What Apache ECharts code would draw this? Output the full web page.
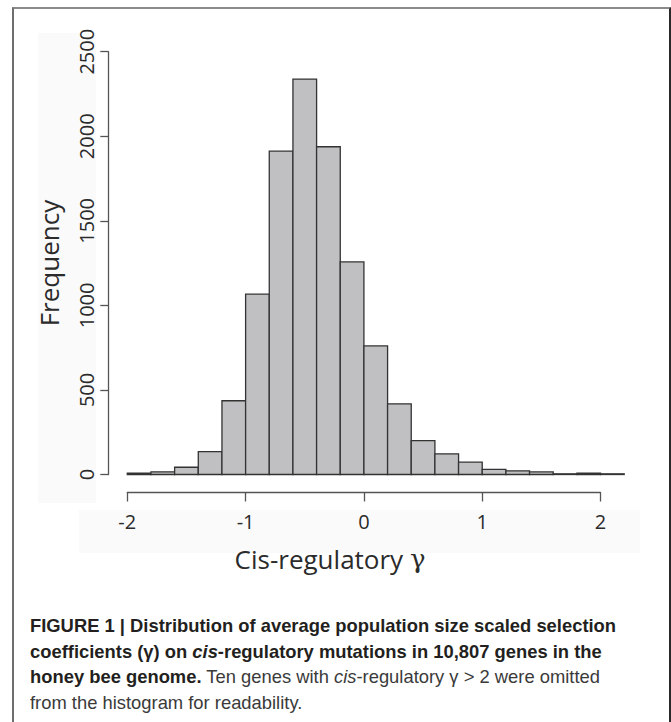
<!DOCTYPE html>
<html>
<head>
<meta charset="utf-8">
<script src="https://cdn.jsdelivr.net/npm/echarts@6/dist/echarts.min.js"></script>
<style>
  html, body { margin: 0; padding: 0; background: #fff; }
  #wrap { position: relative; width: 671px; height: 722px; overflow: hidden; }
  #frame { position: absolute; left: 12px; top: 7px; width: 655px; height: 730px;
           border-left: 2px solid #6e6e6e; border-top: 2px solid #8a8a8a; border-right: 2px solid #2a2a2a; }
  #chart { position: absolute; left: 0; top: 0; width: 671px; height: 722px; }
  #caption { position: absolute; left: 30px; top: 613px; white-space: nowrap;
             font-family: "Liberation Sans", sans-serif;
             font-size: 19px; line-height: 25.5px; color: #231f20;
             transform: scaleX(0.967); transform-origin: 0 0; }
  #caption b { font-weight: bold; }
  #caption .n { color: #3a3a3a; }
</style>
</head>
<body>
<div id="wrap">
  <div id="frame"></div>
  <div id="chart"></div>
  <div id="caption">
    <b>FIGURE 1 | Distribution of average population size scaled selection</b><br>
    <b>coefficients (γ) on <i>cis</i>-regulatory mutations in 10,807 genes in the</b><br>
    <b>honey bee genome.</b><span class="n"> Ten genes with <i>cis</i>-regulatory γ &gt; 2 were omitted</span><br>
    <span class="n">from the histogram for readability.</span>
  </div>
</div>
<script type="text/javascript">
    // histogram bins (width 0.2) and counts
    var binStart = [-2.0, -1.8, -1.6, -1.4, -1.2, -1.0, -0.8, -0.6, -0.4, -0.2, 0.0,
                    0.2, 0.4, 0.6, 0.8, 1.0, 1.2, 1.4, 1.6, 1.8, 2.0];
    var binEnd   = [-1.8, -1.6, -1.4, -1.2, -1.0, -0.8, -0.6, -0.4, -0.2, 0.0, 0.2,
                    0.4, 0.6, 0.8, 1.0, 1.2, 1.4, 1.6, 1.8, 2.0, 2.2];
    var counts   = [8, 16, 43, 135, 436, 1066, 1912, 2338, 1938, 1257, 760,
                    418, 200, 122, 73, 30, 22, 15, 4, 8, 4];
    var xTicks = [-2, -1, 0, 1, 2];
    var yTicks = [0, 500, 1000, 1500, 2000, 2500];

    var histData = [];
    for (var i = 0; i < counts.length; i++) {
        histData.push([binStart[i], binEnd[i], counts[i]]);
    }

    var axisFont = '"Open Sans", "Noto Sans", sans-serif';
    var myChart = echarts.init(document.getElementById('chart'), null, {renderer: 'svg'});

    var option = {
        animation: false,
        graphic: [
            // faint panels behind the label areas, as in the scan
            {type: 'rect', z: -10, shape: {x: 38, y: 33, width: 58, height: 470}, style: {fill: '#fafafa'}},
            {type: 'rect', z: -10, shape: {x: 79, y: 510, width: 561, height: 43}, style: {fill: '#fafafa'}},
            {
                type: 'text', x: 330, y: 559,
                style: {
                    text: '{a|Cis-regulatory }{g|γ}',
                    align: 'center', verticalAlign: 'middle',
                    rich: {
                        a: {fill: '#2b2b2b', fontSize: 26, fontFamily: axisFont},
                        g: {fill: '#2b2b2b', fontSize: 26, fontFamily: '"DejaVu Serif", serif'}
                    }
                }
            }
        ],
        grid: [
            {left: 127.3, right: 46.8, top: 51.7, bottom: 247.5},
            {left: 127.3, width: 473.2, top: 51.7, bottom: 247.5}
        ],
        xAxis: [
            {gridIndex: 0, type: 'value', min: -2, max: 2.2, show: false},
            {
                gridIndex: 1, type: 'value', min: -2, max: 2, interval: 1, offset: 18,
                axisLine: {show: true, onZero: false, lineStyle: {color: '#555', width: 1.3}},
                axisTick: {show: true, length: 9, lineStyle: {color: '#555', width: 1.3}},
                axisLabel: {
                    margin: 19, color: '#2b2b2b', fontSize: 20, fontFamily: axisFont,
                    formatter: function (v) { return xTicks.indexOf(v) >= 0 ? String(v) : ''; }
                },
                splitLine: {show: false}
            }
        ],
        yAxis: [
            {
                gridIndex: 0, type: 'value', min: 0, max: 2500, interval: 500, offset: 19,
                name: 'Frequency', nameLocation: 'middle', nameGap: 46,
                nameTextStyle: {color: '#2b2b2b', fontSize: 26, fontFamily: axisFont},
                axisLine: {show: true, onZero: false, lineStyle: {color: '#555', width: 1.3}},
                axisTick: {show: true, length: 8, lineStyle: {color: '#555', width: 1.3}},
                axisLabel: {
                    rotate: 90, margin: 12, color: '#2b2b2b', fontSize: 20, fontFamily: axisFont,
                    formatter: function (v) { return yTicks.indexOf(v) >= 0 ? String(v) : ''; }
                },
                splitLine: {show: false}
            },
            {gridIndex: 1, type: 'value', min: 0, max: 2500, show: false}
        ],
        series: [
            {
                type: 'custom',
                xAxisIndex: 0,
                yAxisIndex: 0,
                data: histData,
                renderItem: function (params, api) {
                    var p0 = api.coord([api.value(0), api.value(2)]);
                    var p1 = api.coord([api.value(1), 0]);
                    return {
                        type: 'rect',
                        shape: {x: p0[0], y: p0[1], width: p1[0] - p0[0], height: p1[1] - p0[1]},
                        style: {fill: '#c0bfc1', stroke: '#333', lineWidth: 1.3}
                    };
                }
            }
        ]
    };
    myChart.setOption(option);
</script>
</body>
</html>
